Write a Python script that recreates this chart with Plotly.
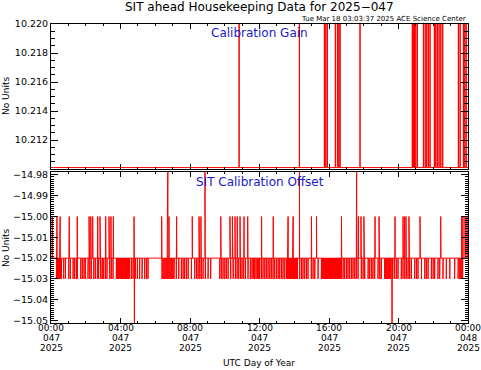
import plotly.graph_objects as go

# ---------------- data (hours of DOY 047, 2025) ----------------
gain_base = 10.2101
gain_spike_value = 10.2215
gain_spike_hours = [10.82, 14.29, 15.73, 15.81, 15.90, 16.36, 16.48, 16.56, 16.63,
                    17.78, 20.79, 20.85, 20.91, 20.99, 21.08, 21.43, 21.53, 21.62,
                    21.72, 21.81, 22.06, 22.14, 22.23, 22.33, 22.43, 22.54, 23.44,
                    23.54, 23.73, 23.81, 23.89]

offset_base = -15.02
offset_up_value = -15.00
offset_up_hours = [0.07, 0.33, 0.52, 1.05, 1.51, 2.19, 2.29, 2.40, 2.69, 2.82, 3.15,
                   3.34, 3.45, 3.59, 4.78, 6.37, 6.79, 7.23, 8.13, 8.52, 8.63, 9.77,
                   10.30, 10.44, 10.59, 10.72, 10.88, 11.11, 11.32, 12.12, 12.79,
                   13.64, 13.93, 14.99, 15.28, 16.72, 17.69, 17.84, 18.01, 18.65,
                   18.88, 19.80, 20.26, 20.35, 20.43, 20.60, 21.24, 22.43, 23.63,
                   23.71, 23.83, 23.94]
offset_down_value = -15.03
offset_down_hours = [0.31, 0.36, 0.42, 0.48, 0.54, 0.60, 0.73, 0.83, 1.02, 1.11, 1.27,
                     1.36, 1.46, 1.52, 1.71, 1.80, 1.90, 1.98, 2.13, 2.23, 2.32, 2.46,
                     2.55, 2.67, 2.74, 2.86, 2.95, 3.03, 3.13, 3.22, 3.38, 3.47, 3.57,
                     3.76, 3.82, 3.88, 3.93, 3.99, 4.05, 4.11, 4.16, 4.22, 4.28, 4.34,
                     4.39, 4.45, 4.51, 4.62, 4.72, 4.85, 4.97, 5.10, 5.24, 5.39, 5.49,
                     5.58, 6.39, 6.45, 6.50, 6.56, 6.62, 6.68, 6.73, 6.79, 6.85, 6.91,
                     6.96, 7.02, 7.08, 7.21, 7.35, 7.50, 7.60, 7.69, 7.79, 7.89, 8.08,
                     8.27, 8.37, 8.46, 8.56, 8.65, 8.75, 8.88, 9.04, 9.19, 9.71, 9.80,
                     9.90, 10.00, 10.09, 10.19, 10.34, 10.48, 10.61, 10.71, 10.80,
                     10.90, 10.99, 11.09, 11.19, 11.34, 11.47, 11.57, 11.65, 11.72,
                     11.80, 11.88, 11.95, 12.01, 12.11, 12.20, 12.30, 12.39, 12.49,
                     12.59, 12.68, 12.78, 12.87, 12.97, 13.07, 13.16, 13.26, 13.35,
                     13.45, 13.55, 13.60, 13.66, 13.72, 13.78, 13.83, 13.89, 13.95,
                     14.01, 14.06, 14.12, 14.18, 14.31, 14.41, 14.50, 14.60, 14.70,
                     14.79, 14.98, 15.08, 15.18, 15.37, 15.56, 15.62, 15.67, 15.73,
                     15.79, 15.85, 15.91, 15.96, 16.02, 16.08, 16.14, 16.19, 16.25,
                     16.31, 16.37, 16.42, 16.48, 16.54, 16.60, 16.65, 16.71, 16.81,
                     16.90, 17.00, 17.09, 17.19, 17.29, 17.38, 17.48, 17.57, 17.67,
                     17.86, 17.96, 18.05, 18.25, 18.34, 18.44, 18.53, 18.63, 18.82,
                     18.92, 19.01, 19.20, 19.26, 19.32, 19.38, 19.44, 19.49, 19.55,
                     19.61, 19.67, 19.78, 19.88, 19.97, 20.16, 20.26, 20.36, 20.45,
                     20.55, 20.64, 20.74, 20.93, 21.03, 21.12, 21.32, 21.51, 21.60,
                     21.70, 21.89, 21.99, 22.08, 22.27, 22.37, 22.56, 22.75, 22.95,
                     23.23, 23.43, 23.52, 23.58, 23.64, 23.69]
offset_high_value = -14.97
offset_high_hours = [6.72, 8.86, 14.30, 17.59]
offset_low_value = -15.06
offset_low_hours = [4.80, 19.63]

tick_hours = [0, 4, 8, 12, 16, 20, 24]
tick_hhmm = ["00:00", "04:00", "08:00", "12:00", "16:00", "20:00", "00:00"]
tick_doy = ["047", "047", "047", "047", "047", "047", "048"]
tick_year = ["2025"] * 7

gain_ticks = [10.212, 10.214, 10.216, 10.218, 10.220]
offset_ticks = [-14.98, -14.99, -15.00, -15.01, -15.02, -15.03, -15.04, -15.05]


def spike_series(base, groups, width=0.012):
    ev = sorted((t, v) for hours, v in groups for t in hours)
    xs, ys = [0.0], [base]
    for t, v in ev:
        xs += [t, t, t + width, t + width]
        ys += [base, v, v, base]
    xs.append(24.0)
    ys.append(base)
    return xs, ys


gx, gy = spike_series(gain_base, [(gain_spike_hours, gain_spike_value)])
ox, oy = spike_series(offset_base, [(offset_up_hours, offset_up_value),
                                    (offset_down_hours, offset_down_value),
                                    (offset_high_hours, offset_high_value),
                                    (offset_low_hours, offset_low_value)])

RED = "#ff0000"
BLUE = "rgb(25,25,205)"
FONT = "DejaVu Sans"

fig = go.Figure()
fig.add_trace(go.Scatter(x=gx, y=gy, mode="lines", line=dict(color=RED, width=1),
                         xaxis="x", yaxis="y", showlegend=False, hoverinfo="skip"))
fig.add_trace(go.Scatter(x=ox, y=oy, mode="lines", line=dict(color=RED, width=1),
                         xaxis="x2", yaxis="y2", showlegend=False, hoverinfo="skip"))

W, H = 481, 370
L, R, T, B = 51, 13, 24, 47
ph = H - T - B  # plot height in px


def py(ypix):
    return (H - B - ypix) / ph


def px(xpix):
    return (xpix - L) / (W - L - R)


xcommon = dict(range=[0, 24], showline=True, linecolor="black", linewidth=1,
               mirror="allticks", ticks="inside", ticklen=5, tickcolor="black",
               tickmode="array", tickvals=tick_hours, showgrid=False, zeroline=False,
               minor=dict(tickmode="linear", tick0=0, dtick=1, ticks="inside",
                          ticklen=2, tickcolor="black"),
               fixedrange=True, automargin=False, showticklabels=False)

fig.update_layout(
    width=W, height=H, autosize=False,
    margin=dict(l=L, r=R, t=T, b=B, pad=0, autoexpand=False),
    paper_bgcolor="white", plot_bgcolor="white",
    font=dict(family=FONT, size=9.5, color="black"),
    xaxis=dict(xcommon, domain=[0, 1], anchor="y"),
    xaxis2=dict(xcommon, domain=[0, 1], anchor="y2"),
    yaxis=dict(domain=[py(169), 1.0], range=[10.210, 10.220], anchor="x",
               showline=True, linecolor="black", linewidth=1, mirror="allticks",
               ticks="inside", ticklen=7, tickcolor="black",
               tickmode="array", tickvals=gain_ticks,
               ticktext=[f"{v:.3f}" for v in gain_ticks],
               tickfont=dict(size=9.5, family=FONT),
               minor=dict(tickmode="linear", tick0=10.210, dtick=0.0005,
                          ticks="inside", ticklen=4, tickcolor="black"),
               showgrid=False, zeroline=False, fixedrange=True, automargin=False),
    yaxis2=dict(domain=[0, py(172)], range=[-15.0512, -14.9786], anchor="x2",
                showline=True, linecolor="black", linewidth=1, mirror="allticks",
                ticks="inside", ticklen=7, tickcolor="black",
                tickmode="array", tickvals=offset_ticks,
                ticktext=[f"{v:.2f}".replace("-", "\u2212") for v in offset_ticks],
                tickfont=dict(size=9.5, family=FONT),
                minor=dict(tickmode="linear", tick0=-15.0, dtick=0.001,
                           ticks="inside", ticklen=3, tickcolor="black"),
                showgrid=False, zeroline=False, fixedrange=True, automargin=False),
)

ann = []
ann.append(dict(text="SIT ahead Housekeeping Data for 2025\u2212047", x=px(259.5), y=py(7),
                xref="paper", yref="paper", showarrow=False,
                font=dict(size=12, family=FONT), xanchor="center", yanchor="middle"))
ann.append(dict(text="Tue Mar 18 03:03:37 2025 ACE Science Center", x=1.0, y=py(19),
                xref="paper", yref="paper", showarrow=False,
                font=dict(size=7, family=FONT), xanchor="right", yanchor="middle"))
ann.append(dict(text="Calibration Gain", x=px(259), y=py(33), xref="paper", yref="paper",
                showarrow=False, font=dict(size=12, color=BLUE, family=FONT),
                xanchor="center", yanchor="middle"))
ann.append(dict(text="SIT Calibration Offset", x=px(259.5), y=py(182), xref="paper",
                yref="paper", showarrow=False, font=dict(size=12, color=BLUE, family=FONT),
                xanchor="center", yanchor="middle"))
for yc in (96, 248):
    ann.append(dict(text="No Units", x=px(6), y=py(yc), xref="paper", yref="paper",
                    showarrow=False, textangle=-90, font=dict(size=9, family=FONT),
                    xanchor="center", yanchor="middle"))
for h, hm, d, yr in zip(tick_hours, tick_hhmm, tick_doy, tick_year):
    for txt, yc in ((hm, 328.0), (d, 337.7), (yr, 347.5)):
        ann.append(dict(text=txt, x=h, y=py(yc), xref="x2", yref="paper", showarrow=False,
                        font=dict(size=9, family=FONT), xanchor="center",
                        yanchor="middle"))
ann.append(dict(text="UTC Day of Year", x=px(259), y=py(363), xref="paper", yref="paper",
                showarrow=False, font=dict(size=9, family=FONT),
                xanchor="center", yanchor="middle"))
fig.update_layout(annotations=ann)

fig.write_html(
    "out.html",
    config={"displayModeBar": False, "responsive": False},
    post_script="document.body.style.margin='0';document.body.style.padding='0';"
                "document.body.style.overflow='hidden';",
)
